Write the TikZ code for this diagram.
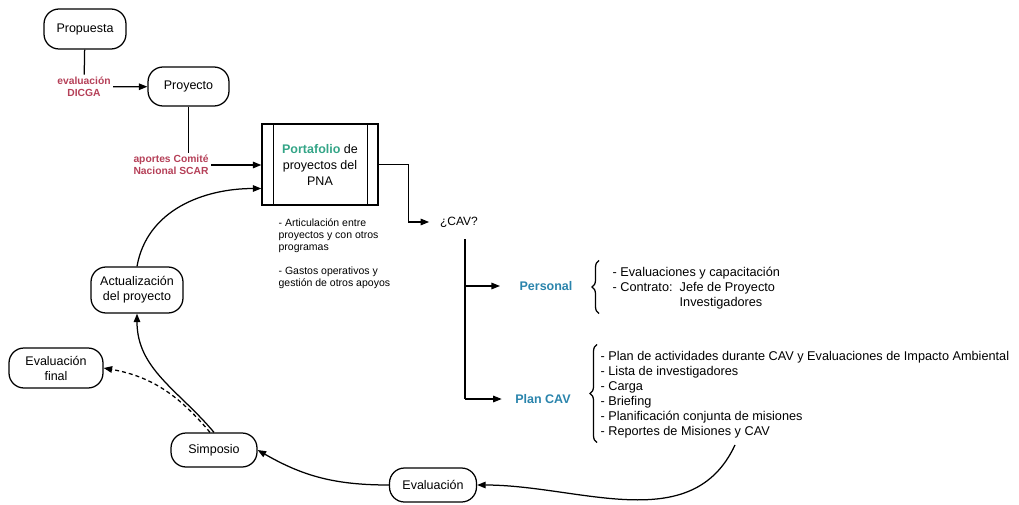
\documentclass[tikz,border=0pt]{standalone}
\usepackage{fontspec}
\setmainfont{Liberation Sans}
\usetikzlibrary{arrows.meta,decorations.pathreplacing}
\definecolor{dicgared}{RGB}{181,64,88}
\definecolor{portgreen}{RGB}{52,165,135}
\definecolor{cavblue}{RGB}{42,132,172}

\begin{document}
\begin{tikzpicture}[x=1pt, y=1pt, line width=1.25pt,
    >={Triangle[length=8.5pt,width=6.5pt]},
    etapa/.style={draw, rounded corners=15pt, align=center, inner sep=2pt,
        font=\fontsize{12.5}{15}\selectfont},
    aporte/.style={text=dicgared, align=center, inner sep=2pt,
        font=\bfseries\fontsize{10.3}{12}\selectfont},
    rama/.style={text=cavblue, inner sep=2pt, font=\bfseries\fontsize{12.5}{15}\selectfont},
    lista/.style={align=left, inner sep=0pt, font=\fontsize{12.7}{15}\selectfont},
    nota/.style={align=left, inner sep=0pt, font=\fontsize{10.5}{12}\selectfont}]
\useasboundingbox (0,0) rectangle (1019,-505);

% etapas del ciclo
\node[etapa, minimum width=82pt, minimum height=40pt] (prop) at (85,-29) {Propuesta};
\node[etapa, minimum width=81pt, minimum height=39pt] (proy) at (188.5,-86.5) {Proyecto};
\node[draw, minimum width=116pt, minimum height=81pt, align=center,
    font=\fontsize{12.5}{16}\selectfont] (port) at (320,-164.5)
    {\textcolor{portgreen}{\textbf{Portafolio}} de\\proyectos del\\PNA};
\draw ([xshift=12pt]port.north west) -- ([xshift=12pt]port.south west);
\draw ([xshift=-11pt]port.north east) -- ([xshift=-11pt]port.south east);
\node[etapa, minimum width=92pt, minimum height=46pt] (act) at (137,-290) {Actualización\\del proyecto};
\node[etapa, minimum width=94pt, minimum height=40pt] (final) at (56,-368) {Evaluación\\final};
\node[etapa, minimum width=86pt, minimum height=34pt] (simp) at (214,-450) {Simposio};
\node[etapa, minimum width=87pt, minimum height=34pt] (eval) at (433,-485) {Evaluación};

\node[aporte] (dicga) at (84,-87) {evaluación\\DICGA};
\node[aporte] (scar) at (171,-165) {aportes Comité\\Nacional SCAR};

\node[nota, anchor=north west] (notas) at (278,-218) {- Articulación entre\\proyectos y con otros\\programas\\[12pt]- Gastos operativos y\\gestión de otros apoyos};

% CAV
\node[font=\fontsize{12}{15}\selectfont] (cav) at (459,-222) {¿CAV?};
\node[rama] (pers) at (546,-286) {Personal};
\node[rama] (plan) at (543,-399) {Plan CAV};
\node[lista, anchor=west] (perslist) at (612,-288) {- Evaluaciones y capacitación\\- Contrato:\ \ Jefe de Proyecto\\\phantom{- Contrato:\ \ }Investigadores};
\node[lista, anchor=west] (planlist) at (600,-394.5) {- Plan de actividades durante CAV y Evaluaciones de Impacto Ambiental\\- Lista de investigadores\\- Carga\\- Briefing\\- Planificación conjunta de misiones\\- Reportes de Misiones y CAV};
\draw[decorate, decoration={brace, amplitude=7pt}] ([xshift=-13pt,yshift=-4pt]perslist.south west) -- ([xshift=-13pt,yshift=6pt]perslist.north west);
\draw[decorate, decoration={brace, amplitude=7pt}] ([xshift=-3pt,yshift=-4pt]planlist.south west) -- ([xshift=-3pt,yshift=6pt]planlist.north west);

\coordinate (vtop) at (465,-239);
\coordinate (vbot) at (465,-399);
\coordinate (pfin) at (735,-445);

% conexiones
\draw (prop) -- (dicga);
\draw[->] (dicga) -- (proy);
\draw (proy) -- (proy |- scar.north);
\draw[->] (scar) -- (port.west |- scar);
\draw[->] (act.north) to[out=80, in=180] ([yshift=-24pt]port.west);
\draw[->] (port.east) -- ++(30,0) |- ([xshift=-7pt]cav.west);
\draw (vtop) -- (vbot);
\draw[->] (vtop |- pers) -- ([xshift=-17pt]pers.west);
\draw[->] (vbot) -- ([xshift=-11pt]plan.west);
\draw[->] (pfin) to[out=-115, in=0] (eval.east);
\draw[->] (eval.west) to[out=180, in=-30] (simp.east);
\draw[->] (simp.north) to[out=130, in=-90] (act.south);
\draw[->, dash pattern=on 4pt off 3pt] ([xshift=-4pt]simp.north) to[out=130, in=-10] (final.east);
\end{tikzpicture}
\end{document}
